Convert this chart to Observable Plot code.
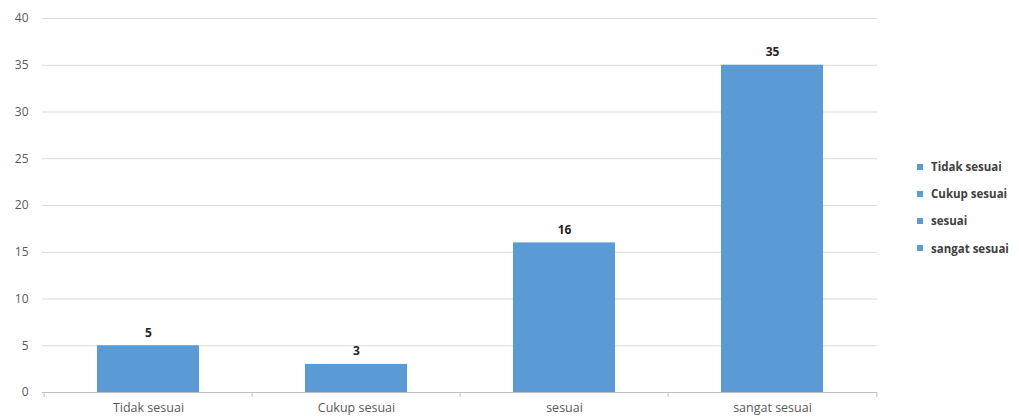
<!DOCTYPE html>
<html>
<head>
<meta charset="utf-8">
<script src="https://cdn.jsdelivr.net/npm/d3@7"></script>
<script src="https://cdn.jsdelivr.net/npm/@observablehq/plot@0.6"></script>
<style>
  body { margin: 0; background: #fff; font-family: "Open Sans", "Liberation Sans", sans-serif; }
  #wrap { position: relative; width: 1019px; height: 420px; }
  #legend { position: absolute; left: 917px; top: 153px; font-size: 11.5px; font-weight: bold; color: #404040; white-space: nowrap; }
  #legend div { height: 27.2px; display: flex; align-items: center; }
  #legend span.sw { display: inline-block; width: 6px; height: 6px; background: #5b9bd5; margin-right: 8px; }
</style>
</head>
<body>
<div id="wrap"><div id="legend"></div></div>
<script>
const categories = ["Tidak sesuai", "Cukup sesuai", "sesuai", "sangat sesuai"];
const values = [5, 3, 16, 35];
const yTicks = [0, 5, 10, 15, 20, 25, 30, 35, 40];

const data = categories.map((c, i) => ({category: c, value: values[i]}));
const W = 1019, ML = 42, MR = 142;
const band = (W - ML - MR) / categories.length;

const chart = Plot.plot({
  width: W,
  height: 420,
  marginLeft: ML,
  marginRight: MR,
  marginTop: 18,
  marginBottom: 28,
  style: {fontFamily: "'Open Sans', 'Liberation Sans', sans-serif", fontSize: "12px", color: "#595959", background: "#fff"},
  x: {domain: categories, paddingInner: 0.51, paddingOuter: 0.255, label: null, tickSize: 0, tickPadding: 11},
  y: {domain: [0, 40], ticks: yTicks, label: null, tickSize: 0, tickPadding: 14, grid: false},
  marks: [
    Plot.ruleY(yTicks.filter(d => d > 0), {stroke: "#d9d9d9", strokeWidth: 1}),
    Plot.ruleY([0], {stroke: "#bfbfbf", strokeWidth: 1}),
    Plot.ruleX(categories, {x: d => d, y1: 0, y2: 0, dx: -band / 2, insetBottom: -5, stroke: "#bfbfbf"}),
    Plot.ruleX([categories[categories.length - 1]], {x: d => d, y1: 0, y2: 0, dx: band / 2, insetBottom: -5, stroke: "#bfbfbf"}),
    Plot.barY(data, {x: "category", y: "value", fill: "#5b9bd5"}),
    Plot.text(data, {x: "category", y: "value", text: d => String(d.value), dy: -13, fontWeight: "bold", fill: "#262626", fontSize: 12}),
    Plot.axisX({tickSize: 0, tickPadding: 11, fontSize: 12.5, label: null})
  ]
});
document.getElementById("wrap").prepend(chart);

const legend = document.getElementById("legend");
categories.forEach(c => {
  const row = document.createElement("div");
  row.innerHTML = `<span class="sw"></span>${c}`;
  legend.appendChild(row);
});
</script>
</body>
</html>
